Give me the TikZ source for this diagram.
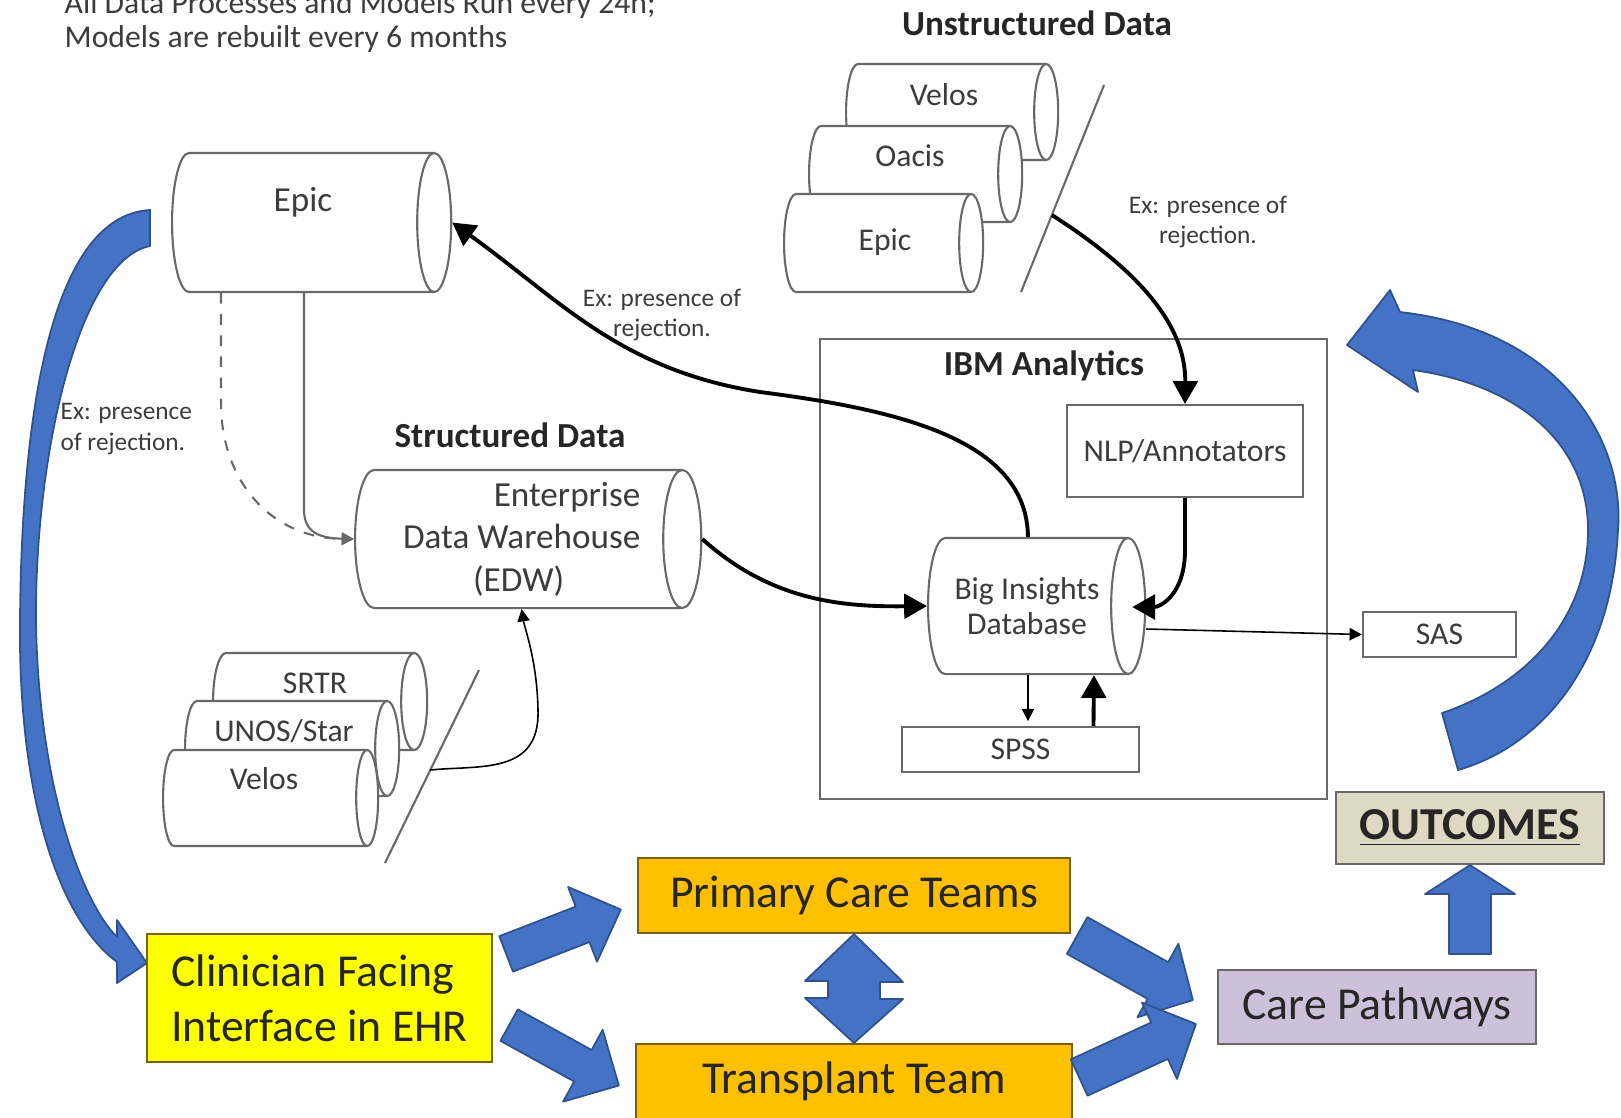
\documentclass[tikz,border=0pt]{standalone}
\usepackage{fontspec}
\setmainfont{Carlito}
\usetikzlibrary{shapes.geometric,calc,arrows.meta}

\definecolor{arrowblue}{RGB}{68,114,196}
\definecolor{arrowedge}{RGB}{47,82,143}
\definecolor{teamorange}{RGB}{255,192,0}
\definecolor{teamedge}{RGB}{120,96,20}
\definecolor{clinyellow}{RGB}{255,255,0}
\definecolor{pathlilac}{RGB}{204,192,218}
\definecolor{outbeige}{RGB}{221,217,195}
\definecolor{linegray}{RGB}{105,105,105}
\definecolor{textgray}{RGB}{60,60,60}

\tikzset{
  drum/.style={cylinder, draw=linegray, fill=white, line width=0.6pt, shape aspect=1, inner xsep=0pt, inner ysep=0.17cm, anchor=west},
  smalldrum/.style={drum, inner ysep=0.12cm},
  heading/.style={font=\bfseries\fontsize{10}{12}\selectfont, inner sep=0pt, text=black!85},
  note/.style={font=\fontsize{9}{11}\selectfont, inner sep=0pt, text=textgray},
  ex/.style={font=\fontsize{7.2}{8.7}\selectfont, inner sep=0pt, text=textgray, align=center},
  drumtext/.style={font=\fontsize{9}{11}\selectfont, inner sep=0pt, text=textgray},
  smallbox/.style={draw=linegray, fill=white, line width=0.6pt, inner sep=0pt, font=\fontsize{9}{11}\selectfont, text=textgray},
  team/.style={draw=teamedge, line width=0.6pt, inner sep=0pt, font=\fontsize{13}{15.6}\selectfont, text=black!85},
  thickarrow/.style={line width=1.1pt, -{Triangle[length=6.5pt,width=7pt]}},
  thinarrow/.style={line width=0.45pt, -{Triangle[length=3.5pt,width=3.5pt]}},
  slash/.style={draw=linegray, line width=0.6pt},
  bluearrow/.style={fill=arrowblue, draw=arrowedge, line width=0.5pt, line join=round},
}

% block arrow: tail, tip, half shaft width, half head width, head length
\newcommand\blockarrow[5]{%
  \coordinate (ba-n) at ($(#2)!#5!(#1)$);
  \draw[bluearrow] ($(#1)!#3!90:(#2)$) -- ($(ba-n)!#3!-90:(#1)$) -- ($(ba-n)!#4!-90:(#1)$)
    -- (#2) -- ($(ba-n)!#4!90:(#1)$) -- ($(ba-n)!#3!90:(#1)$) -- ($(#1)!#3!-90:(#2)$) -- cycle;
}

\begin{document}
\begin{tikzpicture}[x=0.01cm, y=-0.01cm]
\useasboundingbox (0,0) rectangle (1621,1117);

% schedule note, first line runs off the top
\node[note, anchor=base west] (note1) at (64,13) {All Data Processes and Models Run every 24h;};
\node[note, anchor=base west] (note2) at (64,47) {Models are rebuilt every 6 months};

% big feedback arcs
\draw[bluearrow] (150,210) .. controls (60,215) and (22,380) .. (20,620)
  .. controls (18,800) and (60,920) .. (117,962) -- (117,983) -- (147,963) -- (117,920) -- (117,937)
  .. controls (80,900) and (38,780) .. (36,620) .. controls (35,450) and (80,260) .. (150,246) -- cycle;
\draw[bluearrow] (1400,312) .. controls (1560,330) and (1625,440) .. (1618,530)
  .. controls (1612,660) and (1545,745) .. (1458,770) -- (1442,713)
  .. controls (1525,685) and (1588,620) .. (1588,530)
  .. controls (1588,445) and (1520,385) .. (1413,370) -- (1418,392) -- (1347,345) -- (1390,290) -- cycle;

% unstructured sources
\node[heading] (udtitle) at (1037,23) {Unstructured Data};
\node[smalldrum, minimum height=2.12cm, minimum width=0.96cm] (uvelos) at (845,112) {};
\node[drumtext] (uvelostext) at (944,95) {Velos};
\node[smalldrum, minimum height=2.13cm, minimum width=0.96cm] (uoacis) at (808,174) {};
\node[drumtext] (uoacistext) at (910,156) {Oacis};
\node[smalldrum, minimum height=1.99cm, minimum width=0.98cm] (uepic) at (783,243) {};
\node[drumtext] (uepictext) at (885,242) {Epic};
\coordinate (uslashtop) at (1104,85);
\coordinate (uslashbot) at (1021,292);
\draw[slash] (uslashtop) -- (uslashbot);
\node[ex] (exright) at (1208,222) {Ex: presence of\\rejection.};

% structured sources
\node[drum, minimum height=2.79cm, minimum width=1.39cm] (epic) at (171,222.5) {};
\node[drumtext, font=\fontsize{10}{12}\selectfont] (epictext) at (303,202) {Epic};
\node[ex, align=left, anchor=west] (exleft) at (60,429) {Ex: presence\\of rejection.};
\node[heading] (sdtitle) at (510,435) {Structured Data};
\node[drum, minimum height=3.46cm, minimum width=1.38cm, inner ysep=0.19cm] (edw) at (354,539) {};
\node[drumtext, font=\fontsize{10}{12.1}\selectfont, align=right, anchor=east] (edwtext) at (641,539)
  {Enterprise\\Data Warehouse\\(EDW)\hspace*{0.76cm}};
\node[smalldrum, minimum height=2.14cm, minimum width=0.97cm, inner ysep=0.13cm] (srtr) at (212,701.5) {};
\node[drumtext] (srtrtext) at (315,683) {SRTR};
\node[smalldrum, minimum height=2.14cm, minimum width=0.95cm] (unos) at (184,748.5) {};
\node[drumtext] (unostext) at (284,731) {UNOS/Star};
\node[smalldrum, minimum height=2.15cm, minimum width=0.96cm, inner ysep=0.11cm] (svelos) at (162,798) {};
\node[drumtext] (svelostext) at (264,779) {Velos};
\coordinate (sslashtop) at (479,670);
\coordinate (sslashbot) at (385,863);
\draw[slash] (sslashtop) -- (sslashbot);

% analytics platform
\node[draw=linegray, line width=0.6pt, minimum width=5.07cm, minimum height=4.60cm] (ibm) at (1073.5,569) {};
\node[heading] (ibmtitle) at (1044,366) {IBM Analytics};
\node[smallbox, minimum width=2.36cm, minimum height=0.92cm] (nlp) at (1185,451) {NLP/Annotators};
\node[drum, minimum height=2.17cm, minimum width=1.36cm] (big) at (927,606) {};
\node[drumtext, align=center, font=\fontsize{9}{10}\selectfont] (bigtext) at (1027,606) {Big Insights\\Database};
\node[smallbox, minimum width=2.37cm, minimum height=0.45cm] (spss) at (1020.5,749.5) {SPSS};
\node[smallbox, minimum width=1.53cm, minimum height=0.45cm] (sas) at (1439.5,634.5) {SAS};
\node[ex] (exmid) at (662,315) {Ex: presence of\\rejection.};

% data flows
\draw[linegray, line width=0.6pt, dashed, -{Triangle[length=3.5pt,width=3.5pt]}] ($(epic.south)+(-76,0)$) -- ++(0,110)
  .. controls (221,480) and (270,538) .. (edw.west);
\draw[linegray, line width=0.6pt, -{Triangle[length=3.5pt,width=3.5pt]}] ($(epic.south)+(7,0)$) -- ++(0,213)
  .. controls (303,530) and (315,538) .. (edw.west);
\draw[thinarrow] ($(sslashtop)!0.518!(sslashbot)$) .. controls (480,765) and (540,775) .. (538,710)
  .. controls (537,660) and (525,630) .. ($(edw.south)+(10,0)$);
\draw[thickarrow] ($(uslashtop)!0.628!(uslashbot)$) .. controls (1130,265) and (1186,320) .. (nlp.north);
\draw[thickarrow] ($(big.north)+(6,0)$) .. controls (1027,440) and (900,410) .. (760,392)
  .. controls (620,370) and (560,300) .. (epic.east);
\draw[thickarrow] (edw.east) .. controls (770,600) and (840,607) .. (big.west);
\draw[thickarrow] (nlp.south) -- (1185,550) .. controls (1185,595) and (1160,607) .. ($(big.east)+(-14,1)$);
\draw[thinarrow] ($(big.east)+(0,23)$) -- (sas.west);
\draw[thinarrow] ($(big.south)+(6,0)$) -- ++(0,46);
\draw[thickarrow] ($(spss.north)+(73,0)$) -- ($(big.south)+(72,0)$);

% care teams
\node[team, fill=clinyellow, minimum width=3.45cm, minimum height=1.28cm, align=left] (clin) at (319.5,998)
  {Clinician Facing\\Interface in EHR};
\node[team, fill=teamorange, minimum width=4.32cm, minimum height=0.75cm] (primary) at (854,895.5) {Primary Care Teams};
\node[team, fill=teamorange, minimum width=4.36cm, minimum height=0.75cm] (transplant) at (854,1081.5) {Transplant Team};
\node[team, fill=pathlilac, draw=linegray, minimum width=3.18cm, minimum height=0.74cm] (care) at (1377,1007) {Care Pathways};
\node[team, fill=outbeige, draw=linegray, minimum width=2.68cm, minimum height=0.72cm, font=\bfseries\fontsize{13}{15.6}\selectfont]
  (outcomes) at (1470,828) {\underline{OUTCOMES}};

\coordinate (c2p-a) at ($(clin.north east)+(13,21)$);
\coordinate (c2p-b) at ($(primary.west)+(-16,14)$);
\blockarrow{c2p-a}{c2p-b}{0.19cm}{0.40cm}{0.41cm}
\coordinate (c2t-a) at ($(clin.south east)+(16,-38)$);
\coordinate (c2t-b) at ($(transplant.west)+(-16,4)$);
\blockarrow{c2t-a}{c2t-b}{0.18cm}{0.41cm}{0.41cm}
\coordinate (p2c-a) at ($(primary.east)+(6,40)$);
\coordinate (p2c-b) at ($(care.west)+(-24,-7)$);
\blockarrow{p2c-a}{p2c-b}{0.21cm}{0.42cm}{0.40cm}
\coordinate (t2c-a) at ($(transplant.east)+(6,-4)$);
\coordinate (t2c-b) at ($(care.west)+(-21,17)$);
\blockarrow{t2c-a}{t2c-b}{0.20cm}{0.42cm}{0.40cm}
\coordinate (c2o-a) at ($(outcomes.south)+(0,89)$);
\blockarrow{c2o-a}{outcomes.south}{0.21cm}{0.45cm}{0.29cm}
\draw[bluearrow] (primary.south) -- ++(49,48) -- ++(-23,0) -- ++(0,17) -- ++(23,0) -- (transplant.north)
  -- ++(-49,-45) -- ++(23,0) -- ++(0,-17) -- ++(-23,0) -- cycle;

\end{tikzpicture}
\end{document}
